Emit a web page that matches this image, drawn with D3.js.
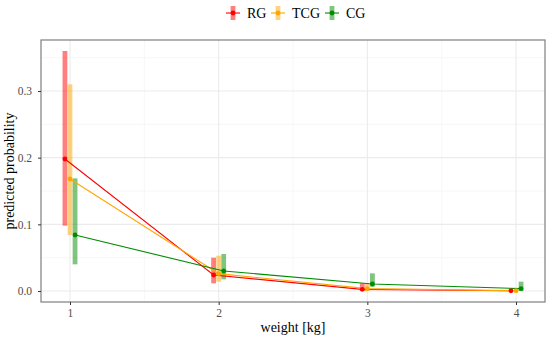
<!DOCTYPE html>
<html><head><meta charset="utf-8">
<script src="https://cdn.jsdelivr.net/npm/d3@7"></script>
<style>body{margin:0;background:#fff}svg{display:block}</style>
</head><body>
<svg id="c" width="550" height="342"></svg>
<script>
const weights = [1, 2, 3, 4];
const groups = ["RG", "TCG", "CG"];
const colors = ["#FF0000", "#FFA500", "#008B00"];
const RG_p  = [0.198, 0.024, 0.0025, 0.0003];
const RG_lo = [0.098, 0.0115, 0.000, 0.000];
const RG_hi = [0.360, 0.050, 0.0115, 0.002];
const TCG_p  = [0.168, 0.026, 0.0035, 0.0005];
const TCG_lo = [0.084, 0.014, 0.000, 0.000];
const TCG_hi = [0.310, 0.053, 0.011, 0.002];
const CG_p  = [0.084, 0.030, 0.0105, 0.0035];
const CG_lo = [0.040, 0.0175, 0.0065, 0.000];
const CG_hi = [0.169, 0.0555, 0.0265, 0.014];
const yTicks = [0.0, 0.1, 0.2, 0.3];
const xTicks = [1, 2, 3, 4];

const series = [
  {name: "RG", p: RG_p, lo: RG_lo, hi: RG_hi},
  {name: "TCG", p: TCG_p, lo: TCG_lo, hi: TCG_hi},
  {name: "CG", p: CG_p, lo: CG_lo, hi: CG_hi}
];
const dodge = [-0.034, 0, 0.034];

const svg = d3.select("#c");
const L = 41, R = 545, T = 40, B = 302;
const x = d3.scaleLinear().domain([0.805, 4.195]).range([L, R]);
const y = d3.scaleLinear().domain([-0.0165, 0.3765]).range([B, T]);
const font = "'Liberation Serif', 'DejaVu Serif', serif";

// grid minor
const g = svg.append("g");
[0.05, 0.15, 0.25, 0.35].forEach(v => g.append("line").attr("x1", L).attr("x2", R).attr("y1", y(v)).attr("y2", y(v)).attr("stroke", "#F2F2F2").attr("stroke-width", 0.6));
[1.5, 2.5, 3.5].forEach(v => g.append("line").attr("y1", T).attr("y2", B).attr("x1", x(v)).attr("x2", x(v)).attr("stroke", "#F2F2F2").attr("stroke-width", 0.6));
yTicks.forEach(v => g.append("line").attr("x1", L).attr("x2", R).attr("y1", y(v)).attr("y2", y(v)).attr("stroke", "#EBEBEB").attr("stroke-width", 1.1));
xTicks.forEach(v => g.append("line").attr("y1", T).attr("y2", B).attr("x1", x(v)).attr("x2", x(v)).attr("stroke", "#EBEBEB").attr("stroke-width", 1.1));

// bars
series.forEach((s, i) => {
  svg.append("g").selectAll("rect").data(weights).join("rect")
    .attr("x", (d, j) => x(d + dodge[i]) - 2.4)
    .attr("width", 4.8)
    .attr("y", (d, j) => y(s.hi[j]))
    .attr("height", (d, j) => Math.max(1, y(s.lo[j]) - y(s.hi[j])))
    .attr("fill", colors[i]).attr("fill-opacity", 0.5);
});
// lines
series.forEach((s, i) => {
  const line = d3.line().x((d, j) => x(d + dodge[i])).y((d, j) => y(s.p[j]));
  svg.append("path").datum(weights).attr("d", line).attr("fill", "none").attr("stroke", colors[i]).attr("stroke-width", 1.1);
});
// points
series.forEach((s, i) => {
  svg.append("g").selectAll("circle").data(weights).join("circle")
    .attr("cx", d => x(d + dodge[i])).attr("cy", (d, j) => y(s.p[j])).attr("r", 2.4).attr("fill", colors[i]);
});

// border
svg.append("rect").attr("x", L).attr("y", T).attr("width", R - L).attr("height", B - T).attr("fill", "none").attr("stroke", "#7F7F7F").attr("stroke-width", 1.2);

// axes
const xa = svg.append("g").attr("transform", `translate(0,${B})`).call(d3.axisBottom(x).tickValues(xTicks).tickFormat(d3.format("d")).tickSize(3).tickPadding(4));
const ya = svg.append("g").attr("transform", `translate(${L},0)`).call(d3.axisLeft(y).tickValues(yTicks).tickFormat(d3.format(".1f")).tickSize(3).tickPadding(6));
[xa, ya].forEach(a => {
  a.select(".domain").remove();
  a.selectAll(".tick line").attr("stroke", "#333").attr("stroke-width", 1);
  a.selectAll(".tick text").attr("fill", "#4D4D4D").style("font-family", font).style("font-size", "11.5px");
});

// titles
svg.append("text").attr("x", (L + R) / 2).attr("y", 332).attr("text-anchor", "middle").style("font-family", font).style("font-size", "14px").attr("fill", "#000").text("weight [kg]");
svg.append("text").attr("transform", `translate(14,${(T + B) / 2}) rotate(-90)`).attr("text-anchor", "middle").style("font-family", font).style("font-size", "14px").attr("fill", "#000").text("predicted probability");

// legend
const legX = [233, 278, 332];
groups.forEach((gname, i) => {
  const lg = svg.append("g").attr("transform", `translate(${legX[i]},13)`);
  lg.append("rect").attr("x", -2.4).attr("y", -7).attr("width", 4.8).attr("height", 14).attr("fill", colors[i]).attr("fill-opacity", 0.5);
  lg.append("line").attr("x1", -7).attr("x2", 7).attr("y1", 0).attr("y2", 0).attr("stroke", colors[i]).attr("stroke-width", 1.1);
  lg.append("circle").attr("r", 2.4).attr("fill", colors[i]);
  lg.append("text").attr("x", 14).attr("y", 4.5).style("font-family", font).style("font-size", "14px").attr("fill", "#000").text(gname);
});
</script>
</body></html>
